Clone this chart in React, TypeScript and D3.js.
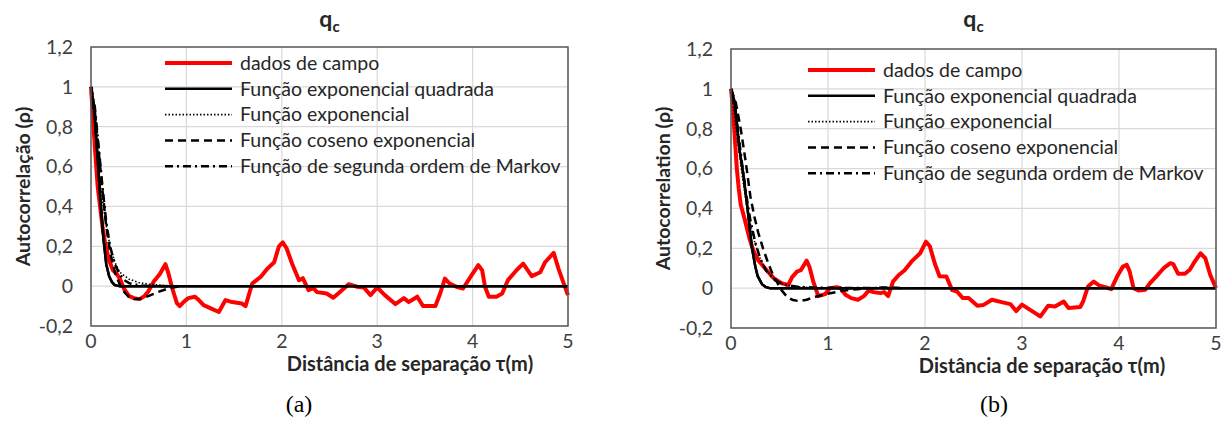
import { useEffect, useRef } from "react";
import * as d3 from "d3";

// x ticks and y ticks shared by both panels
const xTicks = [0, 1, 2, 3, 4, 5];
const yTicks = [-0.2, 0, 0.2, 0.4, 0.6, 0.8, 1, 1.2];
const yTickLabels = ["-0,2", "0", "0,2", "0,4", "0,6", "0,8", "1", "1,2"];

const legendLabels = [
  "dados de campo",
  "Função exponencial quadrada",
  "Função exponencial",
  "Função coseno exponencial",
  "Função de segunda ordem de Markov",
];

// panel (a) - field data
const dadosAX = [0, 0.02, 0.04, 0.07, 0.095, 0.12, 0.15, 0.19, 0.23, 0.27, 0.3, 0.35, 0.4, 0.45, 0.51, 0.56, 0.6, 0.66, 0.72, 0.78, 0.81, 0.85, 0.9, 0.93, 0.97, 1.02, 1.09, 1.13, 1.18, 1.25, 1.34, 1.41, 1.48, 1.58, 1.62, 1.69, 1.78, 1.85, 1.92, 1.97, 2.01, 2.05, 2.11, 2.18, 2.22, 2.28, 2.33, 2.37, 2.47, 2.54, 2.63, 2.7, 2.79, 2.86, 2.93, 3.0, 3.08, 3.19, 3.28, 3.33, 3.42, 3.48, 3.61, 3.66, 3.71, 3.76, 3.83, 3.9, 3.99, 4.06, 4.1, 4.13, 4.17, 4.25, 4.31, 4.37, 4.46, 4.53, 4.62, 4.71, 4.76, 4.85, 4.9, 4.95, 5.0];
const dadosAY = [1, 0.85, 0.7, 0.5, 0.4, 0.3, 0.21, 0.13, 0.08, 0.06, 0.04, -0.017, -0.05, -0.06, -0.065, -0.05, -0.027, 0.025, 0.06, 0.11, 0.067, -0.008, -0.085, -0.1, -0.08, -0.06, -0.053, -0.07, -0.095, -0.11, -0.13, -0.07, -0.08, -0.087, -0.1, 0.013, 0.047, 0.088, 0.12, 0.2, 0.22, 0.19, 0.11, 0.03, 0.04, -0.02, -0.01, -0.03, -0.037, -0.058, -0.02, 0.01, -0.003, -0.007, -0.045, -0.007, -0.045, -0.09, -0.06, -0.08, -0.053, -0.1, -0.1, -0.037, 0.038, 0.013, -0.003, -0.012, 0.055, 0.105, 0.08, -0.003, -0.053, -0.053, -0.037, 0.03, 0.08, 0.113, 0.05, 0.07, 0.12, 0.167, 0.088, 0.02, -0.045];

// panel (a) - fitted functions
const sqExpAX = [0, 0.035, 0.07, 0.1, 0.13, 0.16, 0.19, 0.22, 0.25, 0.3, 5];
const sqExpAY = [1, 0.88, 0.64, 0.42, 0.24, 0.11, 0.05, 0.02, 0.005, 0, 0];
const expAX = [0, 0.03, 0.06, 0.1, 0.15, 0.2, 0.25, 0.3, 0.4, 0.5, 0.6, 0.75, 0.9];
const expAY = [1, 0.85, 0.68, 0.5, 0.33, 0.2, 0.12, 0.07, 0.035, 0.018, 0.01, 0.004, 0];
const cosExpAX = [0, 0.04, 0.08, 0.12, 0.16, 0.2, 0.25, 0.3, 0.35, 0.4, 0.45, 0.5, 0.6, 0.7, 0.8, 0.9, 0.95];
const cosExpAY = [1, 0.88, 0.68, 0.48, 0.3, 0.17, 0.07, 0.01, -0.03, -0.055, -0.065, -0.065, -0.05, -0.03, -0.013, -0.003, 0];
const markovAX = [0, 0.04, 0.08, 0.12, 0.16, 0.2, 0.25, 0.3, 0.35, 0.4, 0.5, 0.6, 0.8];
const markovAY = [1, 0.9, 0.7, 0.5, 0.32, 0.2, 0.11, 0.06, 0.03, 0.015, 0.005, 0.001, 0];

// panel (b) - field data
const dadosBX = [0, 0.02, 0.04, 0.06, 0.08, 0.1, 0.144, 0.19, 0.23, 0.28, 0.35, 0.44, 0.52, 0.59, 0.63, 0.68, 0.72, 0.78, 0.81, 0.85, 0.9, 0.97, 1.02, 1.09, 1.13, 1.18, 1.24, 1.31, 1.37, 1.42, 1.47, 1.54, 1.58, 1.62, 1.67, 1.73, 1.79, 1.86, 1.95, 2.01, 2.05, 2.1, 2.15, 2.22, 2.28, 2.33, 2.39, 2.45, 2.54, 2.6, 2.69, 2.79, 2.88, 2.94, 3.0, 3.08, 3.19, 3.27, 3.34, 3.43, 3.48, 3.6, 3.63, 3.68, 3.74, 3.8, 3.86, 3.92, 3.98, 4.04, 4.08, 4.11, 4.15, 4.2, 4.27, 4.32, 4.39, 4.46, 4.53, 4.56, 4.61, 4.68, 4.73, 4.77, 4.84, 4.89, 4.94, 5.0];
const dadosBY = [1, 0.9, 0.75, 0.6, 0.5, 0.42, 0.34, 0.25, 0.19, 0.14, 0.1, 0.05, 0.025, 0.015, 0.055, 0.083, 0.09, 0.138, 0.105, 0.03, -0.04, -0.03, 0, 0.005, 0, -0.033, -0.05, -0.058, -0.04, -0.012, -0.02, -0.025, -0.02, -0.04, 0.033, 0.066, 0.09, 0.133, 0.175, 0.233, 0.21, 0.125, 0.06, 0.058, -0.01, -0.017, -0.05, -0.05, -0.088, -0.085, -0.058, -0.07, -0.08, -0.115, -0.083, -0.108, -0.142, -0.088, -0.092, -0.067, -0.1, -0.095, -0.067, 0.008, 0.033, 0.012, 0.005, -0.005, 0.058, 0.108, 0.117, 0.083, 0, -0.012, -0.008, 0.025, 0.062, 0.1, 0.125, 0.12, 0.072, 0.072, 0.092, 0.125, 0.175, 0.15, 0.067, 0];

// panel (b) - fitted functions
const sqExpBX = [0, 0.04, 0.086, 0.13, 0.17, 0.217, 0.25, 0.275, 0.32, 0.36, 0.4, 5];
const sqExpBY = [1, 0.93, 0.7, 0.56, 0.4, 0.2, 0.11, 0.06, 0.02, 0.005, 0, 0];
const expBX = [0, 0.04, 0.08, 0.12, 0.16, 0.2, 0.25, 0.3, 0.36, 0.45, 0.53, 0.65, 0.8, 1.0];
const expBY = [1, 0.85, 0.7, 0.55, 0.42, 0.32, 0.22, 0.15, 0.09, 0.045, 0.02, 0.008, 0.003, 0];
const cosExpBX = [0, 0.05, 0.1, 0.15, 0.2, 0.24, 0.28, 0.33, 0.38, 0.43, 0.48, 0.52, 0.58, 0.64, 0.7, 0.78, 0.88, 0.98, 1.1, 1.2, 1.3, 1.45, 1.55, 1.7, 1.75];
const cosExpBY = [1, 0.93, 0.8, 0.64, 0.46, 0.36, 0.28, 0.2, 0.13, 0.07, 0.025, -0.01, -0.045, -0.06, -0.065, -0.058, -0.042, -0.03, -0.018, -0.01, -0.005, 0, 0.003, 0.002, 0];
const markovBX = [0, 0.04, 0.08, 0.12, 0.16, 0.2, 0.25, 0.3, 0.36, 0.45, 0.55, 0.7, 0.9, 1.2, 1.75];
const markovBY = [1, 0.9, 0.76, 0.6, 0.46, 0.34, 0.23, 0.15, 0.09, 0.04, 0.018, 0.006, 0.002, 0.001, 0];

const FONT = "Lato, 'Open Sans', sans-serif";

type Style = { color: string; width: number; dash: string | null };
const styles: Style[] = [
  { color: "#ff0000", width: 4, dash: null },
  { color: "#000000", width: 2.5, dash: null },
  { color: "#000000", width: 1.6, dash: "1.5,2" },
  { color: "#000000", width: 2.5, dash: "8,5" },
  { color: "#000000", width: 2.5, dash: "8,4,2,4" },
];

const zip = (xs: number[], ys: number[]) => xs.map((x, i) => [x, ys[i]] as [number, number]);

function drawPanel(root: any, cfg: any) {
  const { left, right, top, bottom, series, yTitle, xTitleX, legendX, legendY, title, sub } = cfg;
  const x = d3.scaleLinear().domain([0, 5]).range([left, right]);
  const y = d3.scaleLinear().domain([-0.2, 1.2]).range([bottom, top]);
  const g = root.append("g");

  // gridlines
  g.selectAll(".gx").data(xTicks).join("line")
    .attr("x1", (d) => x(d)).attr("x2", (d) => x(d))
    .attr("y1", top).attr("y2", bottom)
    .attr("stroke", "#d9d9d9").attr("stroke-width", 1.2);
  g.selectAll(".gy").data(yTicks).join("line")
    .attr("x1", left).attr("x2", right)
    .attr("y1", (d) => y(d)).attr("y2", (d) => y(d))
    .attr("stroke", "#d9d9d9").attr("stroke-width", 1.2);

  // legend (behind the curves, no box)
  const lg = g.append("g");
  legendLabels.forEach((lab, i) => {
    const s = styles[i];
    const ly = legendY + i * 25.8;
    lg.append("line")
      .attr("x1", legendX).attr("x2", legendX + 67)
      .attr("y1", ly).attr("y2", ly)
      .attr("stroke", s.color).attr("stroke-width", s.width)
      .attr("stroke-dasharray", s.dash);
    lg.append("text")
      .attr("x", legendX + 75).attr("y", ly)
      .attr("dy", "0.35em")
      .attr("font-size", 19.5).attr("fill", "#262626")
      .text(lab);
  });

  // curves
  const line = d3.line<[number, number]>().x((d) => x(d[0])).y((d) => y(d[1])).curve(d3.curveLinear);
  series.forEach((pts: [number, number][], i: number) => {
    const s = styles[i];
    g.append("path")
      .attr("d", line(pts))
      .attr("fill", "none")
      .attr("stroke", s.color).attr("stroke-width", s.width)
      .attr("stroke-linejoin", "round")
      .attr("stroke-dasharray", s.dash);
  });

  // draw the zero line of the squared exponential again on top
  g.append("path")
    .attr("d", line(series[1]))
    .attr("fill", "none").attr("stroke", "#000").attr("stroke-width", 2.5);

  // plot border
  g.append("rect")
    .attr("x", left).attr("y", top)
    .attr("width", right - left).attr("height", bottom - top)
    .attr("fill", "none").attr("stroke", "#595959").attr("stroke-width", 1.5);

  // tick labels
  g.selectAll(".ty").data(yTicks).join("text")
    .attr("x", left - 18).attr("y", (d) => y(d))
    .attr("dy", "0.35em").attr("text-anchor", "end")
    .attr("font-size", 19.5).attr("fill", "#404040")
    .text((d, i) => yTickLabels[i]);
  g.selectAll(".tx").data(xTicks).join("text")
    .attr("x", (d) => x(d)).attr("y", bottom + 15)
    .attr("dy", "0.35em").attr("text-anchor", "middle")
    .attr("font-size", 19.5).attr("fill", "#404040")
    .text((d) => String(d));

  // axis titles
  g.append("text")
    .attr("transform", `translate(${left - 68},${(top + bottom) / 2}) rotate(-90)`)
    .attr("text-anchor", "middle").attr("dy", "0.35em")
    .attr("font-size", 19.5).attr("font-weight", "bold").attr("fill", "#262626")
    .text(yTitle);
  g.append("text")
    .attr("x", xTitleX).attr("y", bottom + 38)
    .attr("text-anchor", "middle").attr("dy", "0.35em")
    .attr("font-size", 20).attr("font-weight", "bold").attr("fill", "#262626")
    .text("Distância de separação τ(m)");

  // chart title q_c
  const t = g.append("text")
    .attr("x", (left + right) / 2).attr("y", 27)
    .attr("text-anchor", "middle")
    .attr("font-size", 23).attr("font-weight", "bold").attr("fill", "#262626");
  t.append("tspan").text(title);
  t.append("tspan").attr("font-size", 15).attr("dy", 5).text("c");

  // caption
  g.append("text")
    .attr("x", sub.x).attr("y", 404)
    .attr("text-anchor", "middle").attr("dy", "0.35em")
    .attr("font-family", "'Liberation Serif', serif")
    .attr("font-size", 24).attr("fill", "#000")
    .text(sub.label);
}

const App = () => {
  const ref = useRef<SVGSVGElement>(null);

  useEffect(() => {
    const svg = d3.select(ref.current);
    svg.selectAll("*").remove();
    const root = svg.append("g").attr("font-family", FONT);

    drawPanel(root, {
      left: 91, right: 568, top: 47, bottom: 326,
      series: [zip(dadosAX, dadosAY), zip(sqExpAX, sqExpAY), zip(expAX, expAY), zip(cosExpAX, cosExpAY), zip(markovAX, markovAY)],
      yTitle: "Autocorrelação (ρ)",
      xTitleX: 410, legendX: 165, legendY: 63,
      title: "q", sub: { x: 299, label: "(a)" },
    });
    drawPanel(root, {
      left: 731, right: 1216, top: 49, bottom: 328,
      series: [zip(dadosBX, dadosBY), zip(sqExpBX, sqExpBY), zip(expBX, expBY), zip(cosExpBX, cosExpBY), zip(markovBX, markovBY)],
      yTitle: "Autocorrelation (ρ)",
      xTitleX: 1042, legendX: 808, legendY: 70,
      title: "q", sub: { x: 994, label: "(b)" },
    });
  }, []);

  return (
    <svg
      ref={ref}
      width={1227}
      height={441}
      style={{ position: "absolute", left: 0, top: 0, background: "#fff" }}
    />
  );
};

export default App;
